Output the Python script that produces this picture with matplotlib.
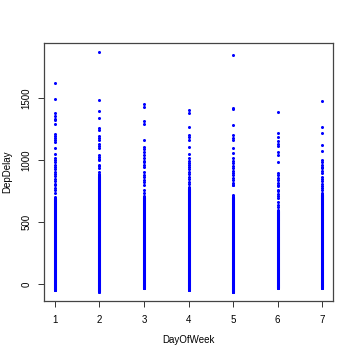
import matplotlib
matplotlib.use('Agg')
import matplotlib.pyplot as plt
import numpy as np

plt.rcParams['font.family'] = ['Liberation Sans', 'DejaVu Sans']

days = [1, 2, 3, 4, 5, 6, 7]
# every whole-minute delay between low and high shows up, so that part is one solid column
dense_low = [-48, -62, -33, -48, -64, -32, -32]
dense_high = [690, 870, 700, 770, 700, 590, 720]
# scattered large delays above the solid part
outliers = {
    1: [1623, 1492, 1376, 1355, 1333, 1323, 1288, 1210, 1194, 1177, 1161, 1145,
        1097, 1048, 1013, 1000, 985, 960, 940, 925, 905, 890, 870, 850, 830, 805,
        795, 770, 760, 730, 705],
    2: [1868, 1484, 1393, 1341, 1258, 1242, 1194, 1180, 1161, 1129, 1110, 1097,
        1043, 1025, 1010, 1000, 960, 948, 935, 903, 890, 880],
    3: [1450, 1425, 1315, 1290, 1161, 1105, 1085, 1065, 1040, 1016, 995, 980,
        960, 944, 903, 880, 860, 840, 820, 800, 760, 730, 710],
    4: [1400, 1375, 1269, 1202, 1185, 1161, 1107, 1048, 1016, 995, 975, 960,
        946, 925, 905, 885, 865, 845, 825, 805, 785],
    5: [1849, 1420, 1410, 1282, 1202, 1180, 1161, 1094, 1056, 1016, 995, 975,
        955, 935, 915, 895, 875, 855, 835, 815, 800, 795, 715],
    6: [1384, 1220, 1183, 1150, 1130, 1110, 1067, 1040, 981, 895, 875, 855, 839,
        815, 800, 790, 760, 750, 725, 710, 690, 665, 640, 620, 600],
    7: [1478, 1269, 1215, 1121, 1075, 1000, 980, 960, 946, 935, 915, 895, 865,
        850, 830, 810, 790, 770, 755, 735],
}

xs = []
ys = []
for d, lo, hi in zip(days, dense_low, dense_high):
    vals = list(range(lo, hi + 1)) + outliers[d]
    xs += [d] * len(vals)
    ys += vals

fig = plt.figure(figsize=(3.56, 3.56), dpi=100)
ax = fig.add_axes([44 / 356, 55 / 356, 289 / 356, 258 / 356])
ax.plot(xs, ys, 'o', color='#0000ff', markersize=2.2, markeredgewidth=0)

ax.set_xlim(0.76, 7.24)
ax.set_ylim(-137, 1943)
ax.set_xticks(days)
ax.set_yticks([0, 500, 1000, 1500])
ax.set_yticklabels(['0', '500', '1000', '1500'], rotation=90, va='center')
ax.tick_params(labelsize=7, length=4, width=0.7, color='#333333')
ax.tick_params(axis='x', pad=6)
ax.tick_params(axis='y', pad=5)
for s in ax.spines.values():
    s.set_color('#444444')
    s.set_linewidth(0.9)

ax.set_xlabel('DayOfWeek', fontsize=7)
ax.set_ylabel('DepDelay', fontsize=7)
ax.xaxis.set_label_coords(0.5, -(335 - 301) / 258)
ax.yaxis.set_label_coords(-(44 - 12) / 289, 0.5)

fig.savefig('out.png', dpi=100)
